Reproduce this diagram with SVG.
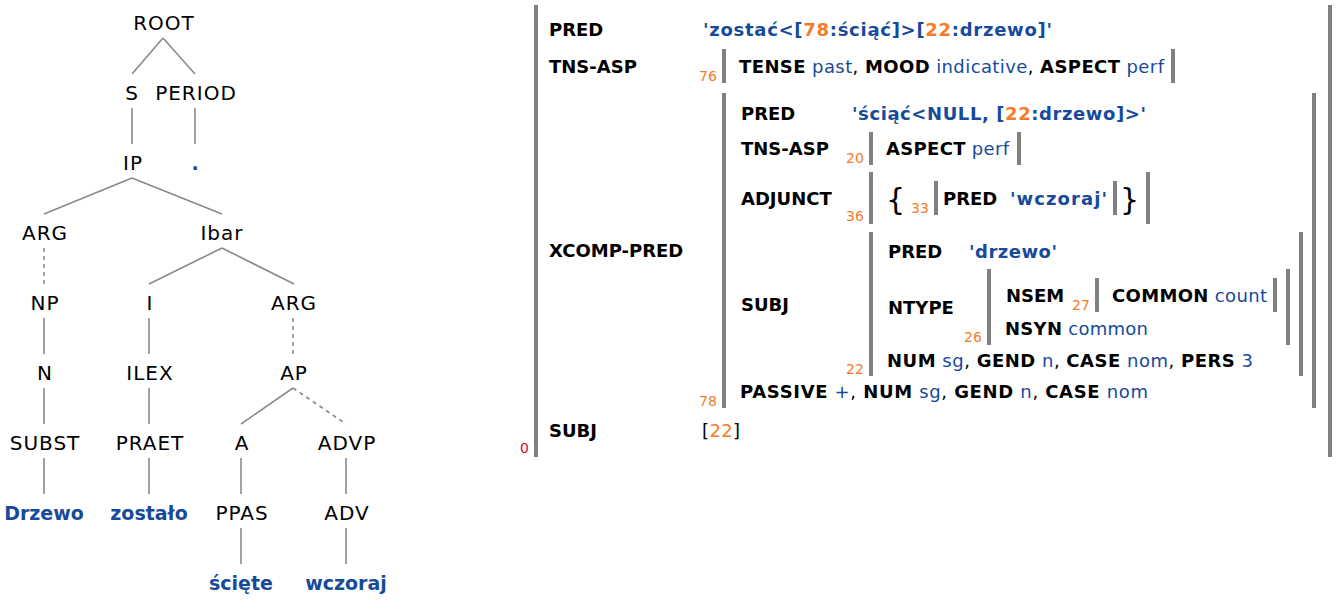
<svg xmlns="http://www.w3.org/2000/svg" width="1336" height="600" viewBox="0 0 1336 600">
<style>
.t{font-family:"DejaVu Sans","Noto Sans",sans-serif;font-size:20px;fill:#000;text-anchor:middle;letter-spacing:1px}
.w{font-weight:bold;fill:#174a9a;font-size:19px;letter-spacing:0}
.e{stroke:#8a8a8a;stroke-width:1.6;fill:none}
.d{stroke-dasharray:4,4}
.f{font-family:"DejaVu Sans","Noto Sans",sans-serif;font-size:18px;fill:#000}
.b{font-weight:bold}
.v{fill:#174a9a}
.o{fill:#f47c2c}
.n{font-family:"DejaVu Sans","Noto Sans",sans-serif;font-size:14px;fill:#f47c2c}
.bar{fill:#808080}
</style>
<rect width="1336" height="600" fill="#fff"/>
<g id="connectors">
<line class="e" x1="163" y1="38" x2="132" y2="74"/>
<line class="e" x1="163" y1="38" x2="195" y2="74"/>
<line class="e" x1="132" y1="108" x2="132" y2="144"/>
<line class="e" x1="195" y1="108" x2="195" y2="144"/>
<line class="e" x1="132" y1="178" x2="44" y2="214"/>
<line class="e" x1="132" y1="178" x2="222" y2="214"/>
<line class="e d" x1="44" y1="248" x2="44" y2="284"/>
<line class="e" x1="222" y1="248" x2="149" y2="284"/>
<line class="e" x1="222" y1="248" x2="294" y2="284"/>
<line class="e" x1="44" y1="318" x2="44" y2="354"/>
<line class="e" x1="149" y1="318" x2="149" y2="354"/>
<line class="e d" x1="293" y1="318" x2="293" y2="354"/>
<line class="e" x1="44" y1="388" x2="44" y2="424"/>
<line class="e" x1="149" y1="388" x2="149" y2="424"/>
<line class="e" x1="293" y1="388" x2="241" y2="424"/>
<line class="e d" x1="293" y1="388" x2="346" y2="424"/>
<line class="e" x1="44" y1="458" x2="44" y2="494"/>
<line class="e" x1="149" y1="458" x2="149" y2="494"/>
<line class="e" x1="241" y1="458" x2="241" y2="494"/>
<line class="e" x1="346" y1="458" x2="346" y2="494"/>
<line class="e" x1="241" y1="528" x2="241" y2="564"/>
<line class="e" x1="346" y1="528" x2="346" y2="564"/>
</g>
<g id="n-root"><text class="t" x="164" y="30">ROOT</text></g>
<g id="n-s"><text class="t" x="132" y="100">S</text></g>
<g id="n-period"><text class="t" x="196" y="100">PERIOD</text></g>
<g id="n-ip"><text class="t" x="133" y="170">IP</text></g>
<g id="n-dot"><text class="t w" x="195" y="170">.</text></g>
<g id="n-arg1"><text class="t" x="45" y="240">ARG</text></g>
<g id="n-ibar"><text class="t" x="222" y="240">Ibar</text></g>
<g id="n-np"><text class="t" x="45" y="310">NP</text></g>
<g id="n-i"><text class="t" x="150" y="310">I</text></g>
<g id="n-arg2"><text class="t" x="294" y="310">ARG</text></g>
<g id="n-n"><text class="t" x="45" y="380">N</text></g>
<g id="n-ilex"><text class="t" x="150" y="380">ILEX</text></g>
<g id="n-ap"><text class="t" x="294" y="380">AP</text></g>
<g id="n-subst"><text class="t" x="45" y="450">SUBST</text></g>
<g id="n-praet"><text class="t" x="150" y="450">PRAET</text></g>
<g id="n-a"><text class="t" x="242" y="450">A</text></g>
<g id="n-advp"><text class="t" x="347" y="450">ADVP</text></g>
<g id="n-drzewo"><text class="t w" x="44" y="520">Drzewo</text></g>
<g id="n-zostalo"><text class="t w" x="149" y="520">zostało</text></g>
<g id="n-ppas"><text class="t" x="242" y="520">PPAS</text></g>
<g id="n-adv"><text class="t" x="347" y="520">ADV</text></g>
<g id="n-sciete"><text class="t w" x="241" y="590">ścięte</text></g>
<g id="n-wczoraj"><text class="t w" x="346" y="590">wczoraj</text></g>

<g id="fs-0">
<rect class="bar" x="534" y="5" width="4" height="452"/>
<rect class="bar" x="1328" y="5" width="4" height="452"/>
<text class="n" x="520" y="453" style="fill:#e8001c">0</text>
<text class="f b" x="549" y="36">PRED</text>
<text class="f b v" x="703" y="36" textLength="349">'zostać&lt;[<tspan class="o">78</tspan>:ściąć]&gt;[<tspan class="o">22</tspan>:drzewo]'</text>
<text class="f b" x="549" y="73">TNS-ASP</text>
<text class="f b" x="549" y="257">XCOMP-PRED</text>
<text class="f b" x="549" y="437">SUBJ</text>
<text class="f" x="702" y="437" textLength="38">[<tspan class="o">22</tspan>]</text>
</g>
<g id="fs-76">
<rect class="bar" x="722" y="49" width="4" height="34"/>
<rect class="bar" x="1171" y="49" width="4" height="34"/>
<text class="n" x="699" y="81">76</text>
<text class="f" x="739" y="73" textLength="425"><tspan class="b">TENSE</tspan> <tspan class="v">past</tspan>, <tspan class="b">MOOD</tspan> <tspan class="v">indicative</tspan>, <tspan class="b">ASPECT</tspan> <tspan class="v">perf</tspan></text>
</g>
<g id="fs-78">
<rect class="bar" x="722" y="93" width="4" height="315"/>
<rect class="bar" x="1312" y="93" width="4" height="315"/>
<text class="n" x="699" y="406">78</text>
<text class="f b" x="741" y="120">PRED</text>
<text class="f b v" x="852" y="120" textLength="294">'ściąć&lt;NULL, [<tspan class="o">22</tspan>:drzewo]&gt;'</text>
<text class="f b" x="741" y="155">TNS-ASP</text>
<text class="f b" x="741" y="205">ADJUNCT</text>
<text class="f b" x="741" y="311">SUBJ</text>
<text class="f" x="740" y="398" textLength="408"><tspan class="b">PASSIVE</tspan> <tspan class="v">+</tspan>, <tspan class="b">NUM</tspan> <tspan class="v">sg</tspan>, <tspan class="b">GEND</tspan> <tspan class="v">n</tspan>, <tspan class="b">CASE</tspan> <tspan class="v">nom</tspan></text>
</g>
<g id="fs-20">
<rect class="bar" x="869" y="132" width="4" height="33"/>
<rect class="bar" x="1017" y="132" width="4" height="33"/>
<text class="n" x="846" y="163">20</text>
<text class="f" x="886" y="155" textLength="123"><tspan class="b">ASPECT</tspan> <tspan class="v">perf</tspan></text>
</g>
<g id="fs-36">
<rect class="bar" x="869" y="172" width="4" height="52"/>
<rect class="bar" x="1146" y="172" width="4" height="52"/>
<text class="n" x="846" y="221">36</text>
<text class="f" x="886" y="210" style="font-size:30px">{</text>
<text class="f" x="1120" y="210" style="font-size:30px">}</text>
</g>
<g id="fs-33">
<rect class="bar" x="934" y="181" width="4" height="34"/>
<rect class="bar" x="1113" y="181" width="4" height="34"/>
<text class="n" x="911" y="213">33</text>
<text class="f b" x="943" y="205">PRED</text>
<text class="f b v" x="1010" y="205" textLength="97">'wczoraj'</text>
</g>
<g id="fs-22">
<rect class="bar" x="869" y="232" width="4" height="144"/>
<rect class="bar" x="1299" y="232" width="4" height="144"/>
<text class="n" x="846" y="374">22</text>
<text class="f b" x="888" y="258">PRED</text>
<text class="f b v" x="969" y="258" textLength="88">'drzewo'</text>
<text class="f b" x="888" y="314">NTYPE</text>
<text class="f" x="887" y="367" textLength="366"><tspan class="b">NUM</tspan> <tspan class="v">sg</tspan>, <tspan class="b">GEND</tspan> <tspan class="v">n</tspan>, <tspan class="b">CASE</tspan> <tspan class="v">nom</tspan>, <tspan class="b">PERS</tspan> <tspan class="v">3</tspan></text>
</g>
<g id="fs-26">
<rect class="bar" x="987" y="269" width="4" height="76"/>
<rect class="bar" x="1286" y="269" width="4" height="76"/>
<text class="n" x="964" y="342">26</text>
<text class="f b" x="1006" y="302">NSEM</text>
<text class="f" x="1005" y="335" textLength="143"><tspan class="b">NSYN</tspan> <tspan class="v">common</tspan></text>
</g>
<g id="fs-27">
<rect class="bar" x="1095" y="278" width="4" height="34"/>
<rect class="bar" x="1273" y="278" width="4" height="34"/>
<text class="n" x="1072" y="310">27</text>
<text class="f" x="1112" y="302" textLength="155"><tspan class="b">COMMON</tspan> <tspan class="v">count</tspan></text>
</g>
</svg>
